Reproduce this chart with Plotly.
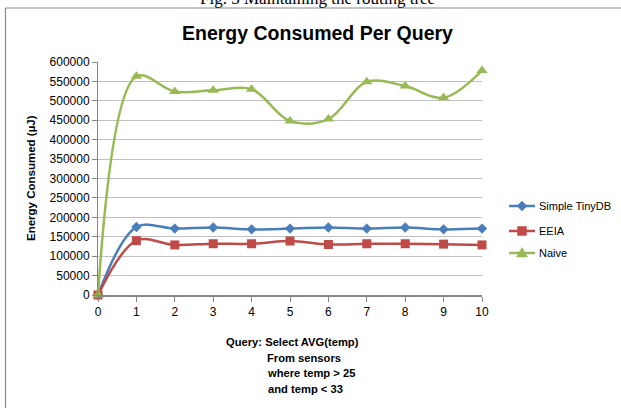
import plotly.graph_objects as go

queries = list(range(11))
simple_tinydb = [0, 175000, 171000, 174000, 169000, 171000, 174000, 171000, 174000, 169000, 171000]
eeia = [0, 140000, 129000, 132000, 132000, 139000, 130000, 132000, 132000, 131000, 129000]
naive = [0, 563000, 524000, 527000, 530000, 448000, 453000, 549000, 538000, 508000, 578000]

series_names = ["Simple TinyDB", "EEIA", "Naive"]
y_ticks = list(range(0, 600001, 50000))

W, H = 621, 408
L, R, T, B = 98, 139, 62, 113
pw, ph = W - L - R, H - T - B


def px(x):
    return (x - L) / pw


def py(y):
    return (H - B - y) / ph


sans = "Liberation Sans, Arial"
colors = ["#4a7ebb", "#be4b48", "#98b954"]
symbols = ["diamond", "square", "triangle-up"]
sizes = [8, 9, 10]

fig = go.Figure()
for name, vals, color, symbol, size in zip(series_names, [simple_tinydb, eeia, naive],
                                           colors, symbols, sizes):
    fig.add_trace(go.Scatter(
        x=queries, y=vals, name=name, mode="lines+markers", cliponaxis=False,
        line=dict(color=color, width=2.5, shape="spline", smoothing=1.0),
        marker=dict(symbol=symbol, size=size, color=color),
    ))

fig.update_layout(
    width=W, height=H,
    margin=dict(l=L, r=R, t=T, b=B, pad=0, autoexpand=False),
    paper_bgcolor="white", plot_bgcolor="white",
    showlegend=False,
    xaxis=dict(
        range=[0, 10], tickmode="array", tickvals=queries,
        ticktext=[str(q) for q in queries],
        showgrid=False, zeroline=False,
        showline=True, linecolor="#868686", linewidth=1.5,
        ticks="outside", ticklen=5, tickcolor="#868686",
        tickfont=dict(family=sans, size=12, color="black"),
    ),
    yaxis=dict(
        range=[0, 600000], tickmode="array", tickvals=y_ticks,
        ticktext=[str(v) for v in y_ticks],
        showgrid=True, gridcolor="#c0c0c0", gridwidth=1, zeroline=False,
        showline=True, linecolor="#868686", linewidth=1,
        ticks="outside", ticklen=5, tickcolor="#868686",
        tickfont=dict(family=sans, size=12, color="black"),
    ),
)

# outer chart frame (left and top edges)
fig.add_shape(type="line", xref="paper", yref="paper",
              x0=px(5.5), x1=px(5.5), y0=py(8), y1=py(420),
              line=dict(color="#8a8a8a", width=1.2))
fig.add_shape(type="line", xref="paper", yref="paper",
              x0=px(5.5), x1=px(640), y0=py(8), y1=py(8),
              line=dict(color="#8a8a8a", width=1.2))


def key_path(symbol, cx, cy):
    # legend key glyph outline in pixel space, converted to paper units
    if symbol == "diamond":
        pts = [(cx, cy - 5), (cx + 5, cy), (cx, cy + 5), (cx - 5, cy)]
    elif symbol == "square":
        pts = [(cx - 4.5, cy - 4.5), (cx + 4.5, cy - 4.5), (cx + 4.5, cy + 4.5), (cx - 4.5, cy + 4.5)]
    else:
        pts = [(cx, cy - 5.5), (cx + 5.5, cy + 4), (cx - 5.5, cy + 4)]
    return "M " + " L ".join(f"{px(a):.5f},{py(b):.5f}" for a, b in pts) + " Z"


# legend: line sample, marker glyph and label for each series
key_rows = [206, 231, 253]
for name, color, symbol, row in zip(series_names, colors, symbols, key_rows):
    fig.add_shape(type="line", xref="paper", yref="paper",
                  x0=px(509), x1=px(535), y0=py(row), y1=py(row),
                  line=dict(color=color, width=2.5))
    fig.add_shape(type="path", xref="paper", yref="paper",
                  path=key_path(symbol, 522, row),
                  fillcolor=color, line=dict(color=color, width=0.5))
    fig.add_annotation(xref="paper", yref="paper", showarrow=False,
                       text=name, x=px(537), y=py(row),
                       xanchor="left", yanchor="middle",
                       font=dict(family=sans, size=11, color="black"))

anns = [
    dict(text="Fig. 5 Maintaining the routing tree", x=px(317), y=py(10),
         xanchor="center", yanchor="bottom",
         font=dict(family="Liberation Serif, Times New Roman", size=17, color="black")),
    dict(text="<b>Energy Consumed Per Query</b>", x=px(317), y=py(33),
         xanchor="center", yanchor="middle",
         font=dict(family=sans, size=19.5, color="black")),
    dict(text="<b>Energy Consumed (\u00b5J)</b>", x=px(31), y=py(178),
         xanchor="center", yanchor="middle", textangle=-90,
         font=dict(family=sans, size=11.5, color="black")),
    dict(text="<b>Query: Select AVG(temp)</b>", x=px(292), y=py(342),
         xanchor="center", yanchor="middle",
         font=dict(family=sans, size=11.2, color="black")),
    dict(text="<b>From sensors</b>", x=px(265), y=py(358),
         xanchor="left", yanchor="middle",
         font=dict(family=sans, size=11.2, color="black")),
    dict(text="<b>where temp > 25</b>", x=px(265), y=py(373),
         xanchor="left", yanchor="middle",
         font=dict(family=sans, size=11.2, color="black")),
    dict(text="<b>and temp < 33</b>", x=px(266), y=py(389),
         xanchor="left", yanchor="middle",
         font=dict(family=sans, size=11.2, color="black")),
]
for a in anns:
    fig.add_annotation(xref="paper", yref="paper", showarrow=False, **a)

fig.write_html("out.html")
